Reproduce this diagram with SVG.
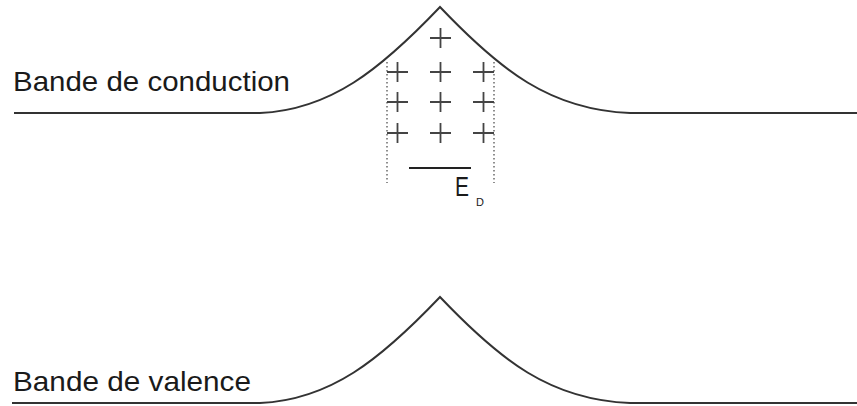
<svg xmlns="http://www.w3.org/2000/svg" width="857" height="406" viewBox="0 0 857 406">
<style>
.band{fill:none;stroke:#333;stroke-width:2}
.lbl{font-family:"Liberation Sans",Arial,sans-serif;fill:#1a1a1a}
.plus{stroke:#444;stroke-width:1.8}
.dot{stroke:#444;stroke-width:1.2;stroke-dasharray:1.5 2.5}
</style>
<rect width="857" height="406" fill="#fff"/>
<g id="conduction">
<path class="band" d="M14,113 L260,113 C330,110 380,70 440,7 C500,70 550,110 630,113 L857,113"/>
<text class="lbl" x="13" y="91" font-size="28" textLength="277" lengthAdjust="spacingAndGlyphs">Bande de conduction</text>
</g>
<g id="valence">
<path class="band" d="M12,403 L260,403 C330,400 380,360 440,297 C500,360 550,400 630,403 L857,403"/>
<text class="lbl" x="13" y="391" font-size="28" textLength="238" lengthAdjust="spacingAndGlyphs">Bande de valence</text>
</g>
<g id="charges">
<path class="plus" d="M430,38h21M440.5,28v20
M387,72h21M397.5,62v20M430,72h21M440.5,62v20M473,72h21M483.5,62v20
M387,102h21M397.5,92v20M430,102h21M440.5,92v20M473,102h21M483.5,92v20
M387,133h21M397.5,123v20M430,133h21M440.5,123v20M473,133h21M483.5,123v20"/>
<line class="dot" x1="387" y1="62" x2="387" y2="183"/>
<line class="dot" x1="494" y1="62" x2="494" y2="183"/>
</g>
<g id="donor">
<line x1="409" y1="168" x2="471" y2="168" stroke="#222" stroke-width="2"/>
<text class="lbl" x="455" y="196" font-size="28" textLength="14" lengthAdjust="spacingAndGlyphs">E</text>
<text class="lbl" x="476" y="206" font-size="11" fill="#555">D</text>
</g>
</svg>
